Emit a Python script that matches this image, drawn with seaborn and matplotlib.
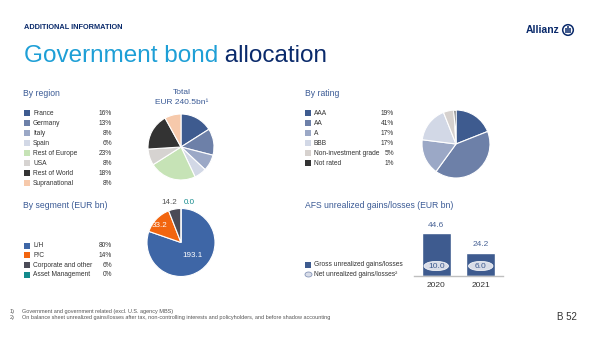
import matplotlib
matplotlib.use("Agg")
import matplotlib.pyplot as plt
from matplotlib.patches import Rectangle, Ellipse, Circle
import seaborn as sns
import pandas as pd

# data
regions = ["France", "Germany", "Italy", "Spain", "Rest of Europe", "USA", "Rest of World", "Supranational"]
region_pct = [16, 13, 8, 6, 23, 8, 18, 8]
region_colors = ["#3e5b8f", "#6d80a8", "#9ba8c6", "#d2d8e6", "#c6e3b6", "#d6d3d1", "#333333", "#f6c9ab"]

ratings = ["AAA", "AA", "A", "BBB", "Non-investment grade", "Not rated"]
rating_pct = [19, 41, 17, 17, 5, 1]
rating_colors = ["#3e5b8f", "#6d80a8", "#9ba8c6", "#d2d8e6", "#d6d1ce", "#333333"]

segments = ["L/H", "P/C", "Corporate and other", "Asset Management"]
segment_bn = [193.1, 33.2, 14.2, 0.0]
segment_pct = [80, 14, 6, 0]
segment_colors = ["#3e66a6", "#f2650f", "#4b4b57", "#128a8c"]

years = ["2020", "2021"]
gross = [44.6, 24.2]
net = [10.0, 6.0]

W, H = 600, 337
NAVY = "#0a2a6b"
HEAD = "#3a5a95"
TXT = "#333333"

sns.set_theme(style="white")
plt.rcParams['font.family'] = ['Liberation Sans', 'DejaVu Sans']

fig = plt.figure(figsize=(6, 3.37), dpi=100)

# overlay in pixel units for slide text
ov = fig.add_axes([0, 0, 1, 1])
ov.set_xlim(0, W)
ov.set_ylim(H, 0)
ov.axis('off')


def box(x0, y0, x1, y1):
    return [x0 / W, 1 - y1 / H, (x1 - x0) / W, (y1 - y0) / H]


def legend(x_sq, x_lab, x_pct, y0, step, labels, pcts, colors):
    for i, (lab, p, c) in enumerate(zip(labels, pcts, colors)):
        y = y0 + i * step
        ov.add_patch(Rectangle((x_sq - 3, y - 3), 6, 6, color=c, lw=0))
        ov.text(x_lab, y, lab, fontsize=4.8, color=TXT, va='center')
        ov.text(x_pct, y, f"{p}%", fontsize=4.8, color=TXT, va='center', ha='right')


def pie(rect, vals, cols):
    ax = fig.add_axes(rect)
    wedges, _ = ax.pie(vals, colors=cols, startangle=90, counterclock=False,
                       wedgeprops=dict(edgecolor='white', linewidth=0.8))
    ax.set_xlim(-1, 1)
    ax.set_ylim(-1, 1)
    ax.axis('off')
    return ax


# header
ov.text(24, 27.5, "ADDITIONAL INFORMATION", fontsize=5.3, fontweight='bold', color=NAVY, va='center')
t1 = ov.text(24, 61.5, "Government bond", fontsize=17.5, color="#1e9fd6", va='baseline')
ov.annotate(" allocation", xy=(1, 0), xycoords=t1, fontsize=17.5, color=NAVY, va='bottom')
ov.text(559, 30, "Allianz", fontsize=7.5, fontweight='bold', color=NAVY, ha='right', va='center')
ov.add_patch(Circle((568, 30), 5.3, fill=False, ec=NAVY, lw=1.1))
for dx, top in [(-2.2, 27.5), (0, 26), (2.2, 27.5)]:
    ov.plot([568 + dx, 568 + dx], [top, 33], color=NAVY, lw=1.1, solid_capstyle='butt')

# by region
ov.text(23, 93, "By region", fontsize=6.2, color=HEAD, va='center')
ov.text(182, 93, "Total", fontsize=6, color=HEAD, ha='center', va='center')
ov.text(182, 102.5, "EUR 240.5bn¹", fontsize=6, color=HEAD, ha='center', va='center')
legend(27, 33, 112, 113.3, 10, regions, region_pct, region_colors)
pie(box(148, 114, 214, 180), region_pct, region_colors)

# by rating
ov.text(305, 93, "By rating", fontsize=6.2, color=HEAD, va='center')
legend(308, 314, 394, 113.3, 10, ratings, rating_pct, rating_colors)
pie(box(422, 110, 490, 178), rating_pct, rating_colors)

# by segment
ov.text(23, 206, "By segment (EUR bn)", fontsize=6.2, color=HEAD, va='center')
legend(27, 33, 112, 245.5, 9.8, segments, segment_pct, segment_colors)
axs = pie(box(147, 208.5, 215, 276.5), segment_bn, segment_colors)
lab_pos = [(0.35, -0.38), (-0.62, 0.5), (-0.34, 1.18), (0.25, 1.18)]
lab_col = ["white", "white", "#555555", "#128a8c"]
for v, (lx, ly), c in zip(segment_bn, lab_pos, lab_col):
    axs.text(lx, ly, f"{v:.1f}", fontsize=5.8, color=c, ha='center', va='center', clip_on=False)

# AFS bars
ov.text(305, 206, "AFS unrealized gains/losses (EUR bn)", fontsize=6.2, color=HEAD, va='center')
ov.add_patch(Rectangle((305, 262), 6, 6, color="#3e5b8f", lw=0))
ov.text(314, 265, "Gross unrealized gains/losses", fontsize=4.8, color=TXT, va='center')
ov.add_patch(Ellipse((308.5, 274.5), 7, 5, fc="#d9dde8", ec="#8595b8", lw=0.6))
ov.text(314, 274.5, "Net unrealized gains/losses²", fontsize=4.8, color=TXT, va='center')

axb = fig.add_axes(box(414, 228, 503, 276))
df = pd.DataFrame({"year": years, "gross": gross})
sns.barplot(data=df, x="year", y="gross", ax=axb, color="#3e5b8f", saturation=1, width=0.65)
axb.set_xlim(-0.5, 1.5)
axb.set_ylim(0, 50)
axb.set_yticks([])
axb.set(xlabel='', ylabel='')
for s in ['top', 'left', 'right']:
    axb.spines[s].set_visible(False)
axb.spines['bottom'].set_color('#bfbfbf')
axb.spines['bottom'].set_linewidth(1)
axb.tick_params(axis='x', length=0, pad=4, labelsize=6, labelcolor=TXT)
axb.patch.set_alpha(0)
for i, (g, n) in enumerate(zip(gross, net)):
    axb.text(i, g + 8.3, f"{g:.1f}", ha='center', va='center', fontsize=6, color="#4a6496", clip_on=False)
    axb.add_patch(Ellipse((i, 10.4), 0.55, 9.7, fc="#d9dde8", ec='white', lw=0.5))
    axb.text(i, 10.4, f"{n:.1f}", ha='center', va='center', fontsize=6, color="#3e5b8f")

# footnotes
ov.text(10, 311, "1)", fontsize=4, color="#555555", va='center')
ov.text(22, 311, "Government and government related (excl. U.S. agency MBS)", fontsize=4, color="#555555", va='center')
ov.text(10, 318, "2)", fontsize=4, color="#555555", va='center')
ov.text(22, 318, "On balance sheet unrealized gains/losses after tax, non-controlling interests and policyholders, "
        "and before shadow accounting", fontsize=4, color="#555555", va='center')
ov.text(577, 317, "B 52", fontsize=7, color=TXT, ha='right', va='center')

fig.savefig("out.png", dpi=100)
